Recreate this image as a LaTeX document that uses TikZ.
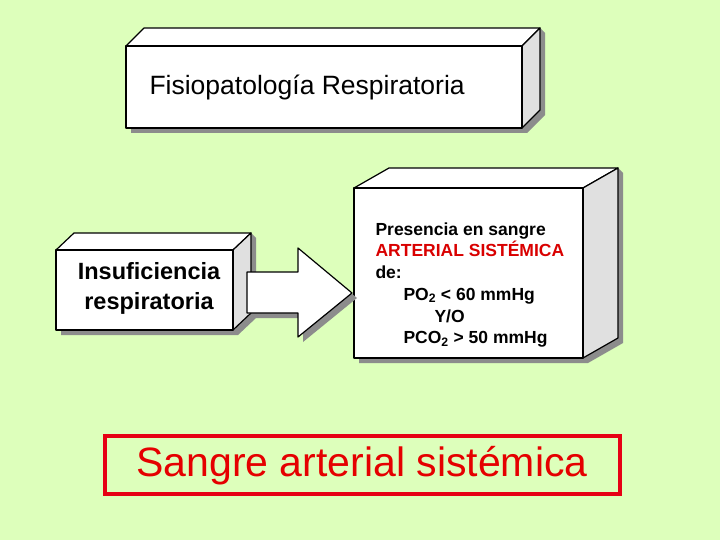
\documentclass[tikz,border=0pt]{standalone}
\usepackage{fontspec}
\setmainfont{Liberation Sans}
\begin{document}
\begin{tikzpicture}[x=1pt,y=-1pt,
  face/.style={draw=black,line width=1.2pt,fill=white,line join=round},
  side/.style={draw=black,line width=1.2pt,fill=black!12,line join=round},
  shadow/.style={fill=black!45}]
\fill[fill={rgb,255:red,221;green,255;blue,187}] (0,0) rectangle (720,540);
\useasboundingbox (0,0) rectangle (720,540);
\newcommand{\mycube}[6]{% x1 y1 x2 y2 dx dy
  \fill[shadow] (#1+5,#4) -- (#1+5,#4+5) -- (#3+5,#4+5) -- (#3+#5+5,#4-#6+5) -- (#3+#5+5,#2-#6+5) -- (#3+#5,#2-#6) -- (#3,#4) -- cycle;
  \draw[face] (#1,#2) -- (#1+#5,#2-#6) -- (#3+#5,#2-#6) -- (#3,#2) -- cycle;
  \draw[side] (#3,#2) -- (#3+#5,#2-#6) -- (#3+#5,#4-#6) -- (#3,#4) -- cycle;
  \draw[face] (#1,#2) rectangle (#3,#4);}
\mycube{126}{46}{522}{128}{18}{18}
\mycube{56}{250}{233}{330}{18}{17}
\mycube{354}{188}{583}{358}{35}{20}
\node (top) at (146,87) [anchor=west,font=\fontsize{26.5}{30}\selectfont] {Fisiopatología Respiratoria};
\node (ins) at (149,288) [align=center,font=\fontsize{23.5}{30}\selectfont\bfseries] {Insuficiencia\\ respiratoria};
\node (pres) at (372,285) [anchor=west,align=left,font=\fontsize{17.5}{21.7}\selectfont\bfseries] {%
 Presencia en sangre\\ \textcolor{red!85!black}{ARTERIAL SISTÉMICA}\\ de:\\
 \hspace*{28pt}PO\textsubscript{2} < 60 mmHg\\ \hspace*{59pt}Y/O\\ \hspace*{28pt}PCO\textsubscript{2} > 50 mmHg};
\fill[shadow] (252,277) -- (303,277) -- (303,253) -- (357,298) -- (303,342) -- (303,318) -- (252,318) -- cycle;
\draw[face] (247,272) -- (298,272) -- (298,248) -- (352,293) -- (298,337) -- (298,313) -- (247,313) -- cycle;
\draw[draw={rgb,255:red,230;green,0;blue,20},line width=3.5pt] (105,436) rectangle (620,494);
\node (sang) at (362,466) [font=\fontsize{41}{46}\selectfont,text=red!90!black] {Sangre arterial sistémica};
\end{tikzpicture}
\end{document}
